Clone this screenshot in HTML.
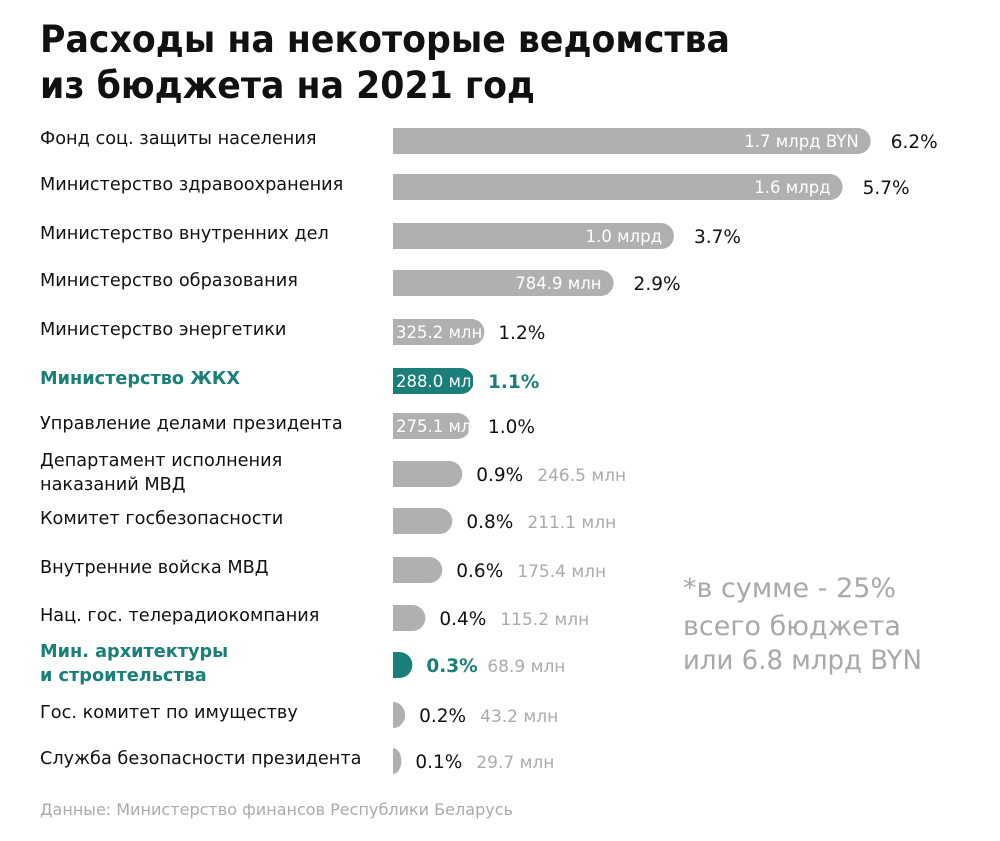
<!DOCTYPE html>
<html><head><meta charset="utf-8"><style>
body{margin:0;background:#fff}
svg{display:block;font-family:"DejaVu Sans","Liberation Sans",sans-serif}
</style></head><body>
<svg id="chart" width="1000" height="841" viewBox="0 0 1000 841">
<text x="40" y="52" font-size="37" font-weight="bold" fill="#111" textLength="690" lengthAdjust="spacingAndGlyphs">Расходы на некоторые ведомства</text>
<text x="40" y="98" font-size="37" font-weight="bold" fill="#111" textLength="495" lengthAdjust="spacingAndGlyphs">из бюджета на 2021 год</text>
<g id="bars"></g>
<text font-size="27" fill="#a8a8a8">
<tspan x="683" y="597">*в сумме - 25%</tspan>
<tspan x="683" y="635">всего бюджета</tspan>
<tspan x="683" y="669" textLength="239" lengthAdjust="spacingAndGlyphs">или 6.8 млрд BYN</tspan>
</text>
<text x="40" y="815" font-size="16" fill="#aaa" textLength="473" lengthAdjust="spacingAndGlyphs">Данные: Министерство финансов Республики Беларусь</text>
</svg>
<script>
const categories=[["Фонд соц. защиты населения"],["Министерство здравоохранения"],["Министерство внутренних дел"],["Министерство образования"],["Министерство энергетики"],["Министерство ЖКХ"],["Управление делами президента"],["Департамент исполнения","наказаний МВД"],["Комитет госбезопасности"],["Внутренние войска МВД"],["Нац. гос. телерадиокомпания"],["Мин. архитектуры","и строительства"],["Гос. комитет по имуществу"],["Служба безопасности президента"]];
const valuesMln=[1700,1600,1000,784.9,325.2,288.0,275.1,246.5,211.1,175.4,115.2,68.9,43.2,29.7];
const valueLabels=["1.7 млрд BYN","1.6 млрд","1.0 млрд","784.9 млн","325.2 млн","288.0 млн","275.1 млн","246.5 млн","211.1 млн","175.4 млн","115.2 млн","68.9 млн","43.2 млн","29.7 млн"];
const percents=["6.2%","5.7%","3.7%","2.9%","1.2%","1.1%","1.0%","0.9%","0.8%","0.6%","0.4%","0.3%","0.2%","0.1%"];
const highlighted=[false,false,false,false,false,true,false,false,false,false,false,true,false,false];
const NS="http://www.w3.org/2000/svg";
const g=document.getElementById('bars');
const x0=393, scale=0.281;
const rowY=[141,187,236,283,332,381,426,474,521,570,618,665,715,761];
const teal="#1a7f78", grey="#b0b0b0";
function xs(v){return x0+v*scale;}
function mk(tag,attrs){const e=document.createElementNS(NS,tag);for(const k in attrs)e.setAttribute(k,attrs[k]);return e;}
valuesMln.forEach((v,i)=>{
  const cy=rowY[i], h=26, w=xs(v)-x0, r=Math.min(13,w);
  const col=highlighted[i]?teal:grey;
  const p=`M${x0},${cy-h/2} H${x0+w-r} A${r},${h/2} 0 0 1 ${x0+w},${cy} A${r},${h/2} 0 0 1 ${x0+w-r},${cy+h/2} H${x0} Z`;
  const bar=mk('path',{d:p,fill:col});
  
  
  g.appendChild(bar);
  const lab=mk('text',{x:40,'font-size':17.7,fill:highlighted[i]?teal:'#111','font-weight':highlighted[i]?'bold':'normal'});
  
  
  const lines=categories[i];
  lines.forEach((t,j)=>{const ts=mk('tspan',{x:40,y:(lines.length===1?cy+3:cy-8+j*24)});ts.textContent=t;lab.appendChild(ts);});
  g.appendChild(lab);
  const end=xs(v);
  let pctX;
  if(i<7){
    const inside=mk('text',{'font-size':16.5,fill:'#fff'});
    if(i<4){inside.setAttribute('x',end-12);inside.setAttribute('text-anchor','end');}
    else{inside.setAttribute('x',x0+3);}
    inside.setAttribute('y',cy+6);
    inside.textContent=valueLabels[i];
    
    
    g.appendChild(inside);
    pctX=i<4?end+20:Math.max(end+14,x0+95);
  } else {
    pctX=end+14;
  }
  const pt=mk('text',{x:pctX,y:cy+7,'font-size':18.5,fill:highlighted[i]?teal:'#111','font-weight':highlighted[i]?'bold':'normal'});
  pt.textContent=percents[i];
  
  
  g.appendChild(pt);
  if(i>=7){
    const gv=mk('text',{x:pctX+61,y:cy+7,'font-size':17,fill:'#aaa'});
    gv.textContent=valueLabels[i];
    
    
    g.appendChild(gv);
  }
});
</script>
</body></html>
